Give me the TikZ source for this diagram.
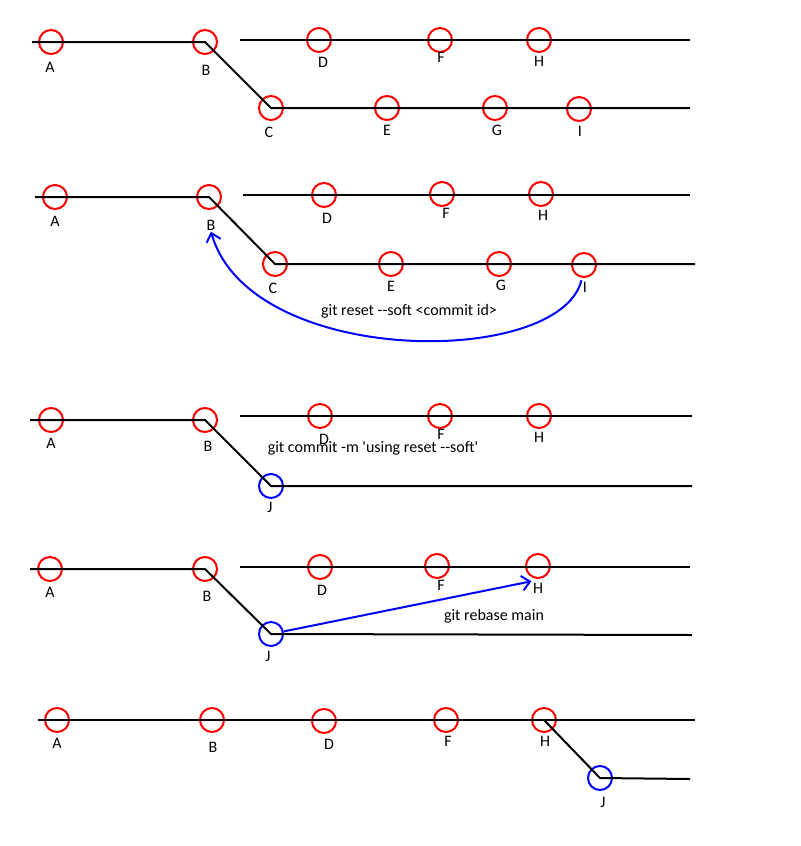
\documentclass[tikz,border=0pt]{standalone}
\usepackage{fontspec}
\setmainfont{Carlito}
\usetikzlibrary{arrows.meta}
\begin{document}
\begin{tikzpicture}[x=0.75pt, y=-0.75pt, every node/.style={font=\fontsize{12}{14}\selectfont},
  c/.style={draw=red, line width=1.5pt, circle, minimum size=18pt, inner sep=0pt},
  cj/.style={c, draw=blue},
  br/.style={line width=1.5pt},
  lbl/.style={inner sep=1pt},
  mv/.style={draw=blue, line width=1.5pt, -{Straight Barb[length=6pt, width=11pt]}}]
  \useasboundingbox (0,0) rectangle (800,846);
  % before the reset
  \coordinate (s1) at (32,42); \coordinate (u1) at (240,40); \coordinate (ue1) at (690,40); \coordinate (e1) at (690,108);
  \node[c] (a1) at (51,42) {}; \node[c] (b1) at (205,42) {}; \node[c] (c1) at (271,108) {};
  \node[c] (d1) at (319,40) {}; \node[c] (f1) at (440,40) {}; \node[c] (h1) at (539,40) {};
  \node[c] (e1c) at (387,108) {}; \node[c] (g1) at (495,108) {}; \node[c] (i1) at (579,109) {};
  \draw[br] (s1) -- (b1.center) -- (c1.center) -- (e1);
  \draw[br] (u1) -- (ue1);
  \node[lbl] at (50,67) {A}; \node[lbl] at (206,70) {B}; \node[lbl] at (269,132) {C};
  \node[lbl] at (323,62) {D}; \node[lbl] at (441,57) {F}; \node[lbl] at (539,61) {H};
  \node[lbl] at (387,130) {E}; \node[lbl] at (497,130) {G}; \node[lbl] at (580,131) {I};
  % git reset --soft
  \coordinate (s2) at (35,197); \coordinate (u2) at (243,195); \coordinate (ue2) at (690,195); \coordinate (e2) at (695,264);
  \node[c] (a2) at (55,197) {}; \node[c] (b2) at (209,197) {}; \node[c] (c2) at (275,264) {};
  \node[c] (d2) at (324,195) {}; \node[c] (f2) at (442,194) {}; \node[c] (h2) at (541,194) {};
  \node[c] (e2c) at (391,264) {}; \node[c] (g2) at (499,264) {}; \node[c] (i2) at (584,265) {};
  \draw[br] (s2) -- (b2.center) -- (c2.center) -- (e2);
  \draw[br] (u2) -- (ue2);
  \node[lbl] at (55,221) {A}; \node[lbl] (lb2) at (211,225) {B}; \node[lbl] at (273,288) {C};
  \node[lbl] at (327,218) {D}; \node[lbl] at (446,213) {F}; \node[lbl] at (543,215) {H};
  \node[lbl] at (391,286) {E}; \node[lbl] at (501,285) {G}; \node[lbl] (li2) at (585,287) {I};
  \draw[mv] (li2.north west) .. controls (560,368) and (250,368) .. (lb2.south);
  \node (reset) at (409,311) {git reset -{}-soft <commit id>};
  % git commit
  \coordinate (s3) at (30,420); \coordinate (u3) at (240,416); \coordinate (ue3) at (692,416); \coordinate (e3) at (692,486);
  \node[c] (a3) at (51,420) {}; \node[c] (b3) at (205,420) {}; \node[cj] (j3) at (271,486) {};
  \node[c] (d3) at (320,416) {}; \node[c] (f3) at (440,416) {}; \node[c] (h3) at (539,416) {};
  \draw[br] (s3) -- (b3.center) -- (j3.center) -- (e3);
  \draw[br] (u3) -- (ue3);
  \node[lbl] at (51,443) {A}; \node[lbl] at (208,446) {B}; \node[lbl] at (270,507) {J};
  \node[lbl] at (324,439) {D}; \node[lbl] at (441,434) {F}; \node[lbl] at (539,437) {H};
  \node (commit) at (373,448) {git commit -m \textquotesingle using reset -{}-soft\textquotesingle};
  % git rebase main
  \coordinate (s4) at (30,569); \coordinate (u4) at (240,567); \coordinate (ue4) at (690,567); \coordinate (e4) at (692,635);
  \node[c] (a4) at (50,569) {}; \node[c] (b4) at (205,569) {}; \node[cj] (j4) at (271,634) {};
  \node[c] (d4) at (320,567) {}; \node[c] (f4) at (437,566) {}; \node[c] (h4) at (538,566) {};
  \draw[br] (s4) -- (b4.center) -- (j4.center) -- (e4);
  \draw[br] (u4) -- (ue4);
  \node[lbl] at (50,592) {A}; \node[lbl] at (207,596) {B}; \node[lbl] at (268,656) {J};
  \node[lbl] at (322,590) {D}; \node[lbl] at (441,585) {F}; \node[lbl] (lh4) at (538,588) {H};
  \draw[mv] (j4) -- (lh4.north west);
  \node (rebase) at (494,616) {git rebase main};
  % after the rebase
  \coordinate (s5) at (38,720); \coordinate (e5) at (695,720); \coordinate (ej5) at (690,779);
  \node[c] (a5) at (57,720) {}; \node[c] (b5) at (212,720) {}; \node[c] (d5) at (324,721) {};
  \node[c] (f5) at (446,720) {}; \node[c] (h5) at (544,720) {}; \node[cj] (j5) at (600,778) {};
  \draw[br] (s5) -- (e5);
  \draw[br] (h5.center) -- (j5.center) -- (ej5);
  \node[lbl] at (57,743) {A}; \node[lbl] at (213,747) {B}; \node[lbl] at (329,744) {D};
  \node[lbl] at (448,741) {F}; \node[lbl] at (545,741) {H}; \node[lbl] at (603,802) {J};
\end{tikzpicture}
\end{document}
